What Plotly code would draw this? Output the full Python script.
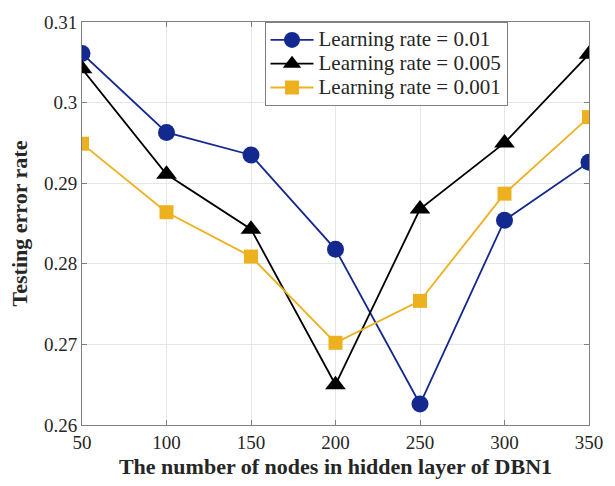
import plotly.graph_objects as go

# Hidden-layer node counts of DBN1
nodes = [50, 100, 150, 200, 250, 300, 350]

# Testing error rate for each learning rate
err_lr_001 = [0.3061, 0.2963, 0.2935, 0.2818, 0.2626, 0.2854, 0.2926]
err_lr_0005 = [0.3042, 0.2911, 0.2843, 0.2650, 0.2868, 0.2950, 0.3060]
err_lr_0001 = [0.2949, 0.2864, 0.2809, 0.2702, 0.2754, 0.2887, 0.2982]

series_names = ["Learning rate = 0.01", "Learning rate = 0.005", "Learning rate = 0.001"]

y_ticks = [0.26, 0.27, 0.28, 0.29, 0.30, 0.31]
y_tick_text = ["0.26", "0.27", "0.28", "0.29", "0.3", "0.31"]
x_ticks = [50, 100, 150, 200, 250, 300, 350]

FONT = "Liberation Serif, Times New Roman, serif"

styles = [
    dict(color="#13298F", symbol="circle", size=17),
    dict(color="#000000", symbol="triangle-up", size=18),
    dict(color="#EDB120", symbol="square", size=14),
]

fig = go.Figure()
for name, vals, st in zip(series_names, [err_lr_001, err_lr_0005, err_lr_0001], styles):
    fig.add_trace(go.Scatter(
        x=nodes, y=vals,
        name='<span style="font-size:21px">%s</span>' % name,
        mode="lines+markers",
        line=dict(color=st["color"], width=1.8),
        marker=dict(color=st["color"], symbol=st["symbol"], size=st["size"], line=dict(width=0)),
    ))

axis_common = dict(
    showline=True, linecolor="#808080", linewidth=1, mirror="ticks",
    ticks="inside", ticklen=5, tickcolor="#808080",
    showgrid=True, gridcolor="#E6E6E6", gridwidth=1, zeroline=False,
    tickfont=dict(family=FONT, size=19, color="#262626"),
)

fig.update_xaxes(
    range=[50, 350], tickvals=x_ticks, **axis_common,
    title=dict(text="<b>The number of nodes in hidden layer of DBN1</b>",
               font=dict(family=FONT, size=22, color="#262626"), standoff=6),
)
fig.update_yaxes(
    range=[0.26, 0.31], tickvals=y_ticks, ticktext=y_tick_text, **axis_common,
    title=dict(text="<b>Testing error rate</b>",
               font=dict(family=FONT, size=22, color="#262626"), standoff=10),
)

fig.update_layout(
    width=615, height=486,
    margin=dict(l=82, r=16, t=15, b=55),
    paper_bgcolor="white", plot_bgcolor="white",
    legend=dict(
        x=0.36, y=1.0, xanchor="left", yanchor="top",
        bgcolor="white", bordercolor="#808080", borderwidth=1,
        font=dict(family=FONT, size=16, color="#262626"),
        itemwidth=43, tracegroupgap=0,
    ),
)

fig.write_html("out.html")
